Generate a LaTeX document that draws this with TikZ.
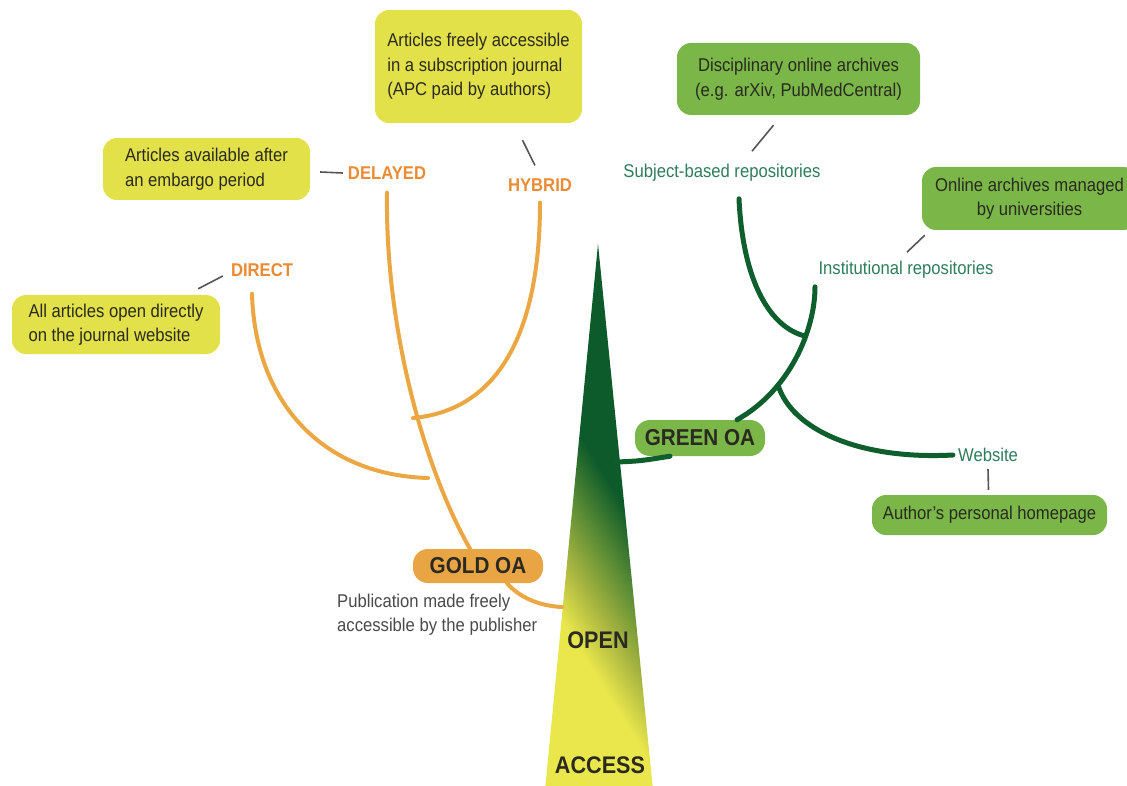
\documentclass[tikz,border=0pt]{standalone}
\usepackage{fontspec}
\setmainfont[FakeStretch=0.9]{Liberation Sans}
\definecolor{boxY}{HTML}{E3E14A}
\definecolor{boxG}{HTML}{7AB648}
\definecolor{boxO}{HTML}{E9A444}
\definecolor{lineO}{HTML}{EBA743}
\definecolor{labO}{HTML}{EB8B34}
\definecolor{lineG}{HTML}{0F5E2E}
\definecolor{labG}{HTML}{2E7D5B}
\definecolor{connC}{HTML}{555555}
\definecolor{txt}{HTML}{2A2A22}
\definecolor{grayT}{HTML}{4A4A4A}
\definecolor{triG}{HTML}{0D5A2A}
\definecolor{triM}{HTML}{5E8E35}
\definecolor{triO}{HTML}{A8B540}
\definecolor{triY}{HTML}{EAE74C}
\pgfdeclareverticalshading{oashade}{100bp}{color(0bp)=(triY); color(45.5bp)=(triY); color(48.5bp)=(triO); color(51.5bp)=(triM); color(55bp)=(triG); color(100bp)=(triG)}
\tikzset{
  ybox/.style={fill=boxY, rounded corners=14pt, inner sep=0pt, font=\fontsize{18.5}{24.5}\selectfont, text=txt, align=left},
  gbox/.style={fill=boxG, rounded corners=14pt, inner sep=0pt, font=\fontsize{18.5}{24.5}\selectfont, text=txt, align=center},
  olabel/.style={text=labO, font=\fontsize{18.5}{20}\selectfont\bfseries, inner sep=3pt},
  glabel/.style={text=labG, font=\fontsize{18.5}{20}\selectfont, inner sep=3pt},
  oaname/.style={font=\fontsize{23}{26}\selectfont\bfseries, text=txt, rounded corners=15pt, inner sep=0pt},
  bigword/.style={font=\fontsize{24}{26}\selectfont\bfseries, text=txt, inner sep=0pt},
  oline/.style={draw=lineO, line width=4pt, line cap=round},
  gline/.style={draw=lineG, line width=5pt, line cap=round},
  conn/.style={draw=connC, line width=1.6pt},
}
\begin{document}
\begin{tikzpicture}[x=1pt,y=-1pt]
\useasboundingbox[fill=white] (0,0) rectangle (1127,786);

% triangle
\coordinate (apex) at (598,244);
\coordinate (bl) at (545,790);
\coordinate (br) at (653,790);
\begin{scope}
  \clip (apex) -- (bl) -- (br) -- cycle;
  \begin{scope}[transform canvas={rotate around={-58:(601,582)}}]
    \shade[shading=oashade] (301,282) rectangle (901,882);
  \end{scope}
\end{scope}

% nodes
\node[oaname, fill=boxO, minimum width=130pt, minimum height=34pt] (gold) at (478,566) {GOLD OA};
\node[oaname, fill=boxG, minimum width=130pt, minimum height=36pt] (green) at (700,438) {GREEN OA};
\node[bigword] (open) at (598,640) {OPEN};
\node[bigword] (access) at (600,765) {ACCESS};
\node[anchor=west, align=left, text=grayT, font=\fontsize{18.5}{24}\selectfont, inner sep=0pt] (pub) at (337,615) {Publication made freely\\accessible by the publisher};

\node[olabel] (delayed) at (387,173) {DELAYED};
\node[olabel] (hybrid) at (540,185) {HYBRID};
\node[olabel] (direct) at (262,270) {DIRECT};

\node[ybox, minimum width=207pt, minimum height=62pt] (ebox) at (206.5,169) {Articles available after\\an embargo period};
\node[ybox, minimum width=208pt, minimum height=59pt] (dbox) at (116,324.5) {All articles open directly\\on the journal website};
\node[ybox, minimum width=207pt, minimum height=113pt] (hbox) at (478.5,66.5) {Articles freely accessible\\in a subscription journal\\(APC paid by authors)};

\node[glabel] (subj) at (722,173) {Subject-based repositories};
\node[glabel] (inst) at (906,270) {Institutional repositories};
\node[glabel] (web) at (988,455) {Website};

\node[gbox, minimum width=243pt, minimum height=72pt] (disc) at (798.5,79) {Disciplinary online archives\\(e.g. arXiv, PubMedCentral)};
\node[gbox, minimum width=215pt, minimum height=63pt] (onl) at (1029.5,198.5) {Online archives managed\\by universities};
\node[gbox, minimum width=235pt, minimum height=40pt] (home) at (989.5,515) {Author’s personal homepage};

% gold branches
\coordinate (jd) at (428,478);
\coordinate (jh) at (413,418);
\draw[oline] ([xshift=-8pt]gold.north) .. controls (425,470) and (385,330) .. ([yshift=-10pt]delayed.south);
\draw[oline] ([shift={(-10,14)}]direct.south) .. controls (255,400) and (320,475) .. (jd);
\draw[oline] ([yshift=-8pt]hybrid.south) .. controls (540,330) and (500,410) .. (jh);
\draw[oline] ([xshift=29pt]gold.south) .. controls (520,598) and (540,606) .. (562,607);

% green branches
\coordinate (jw) at (778,385);
\coordinate (js) at (805,336);
\coordinate (trunkR) at (617,462);
\draw[gline] (trunkR) .. controls (640,461) .. ([xshift=-30pt]green.south);
\draw[gline] ([xshift=37pt]green.north) .. controls (790,390) and (815,330) .. ([shift={(-91,5)}]inst.south);
\draw[gline] ([shift={(17,14)}]subj.south) .. controls (743,285) and (772,328) .. (js);
\draw[gline] (jw) .. controls (792,430) and (860,460) .. ([xshift=-2pt]web.west);

% gray ticks
\draw[conn] ([shift={(10,3)}]ebox.east) -- ([shift={(-2,0)}]delayed.west);
\draw[conn] ([shift={(-22,-6)}]dbox.north east) -- ([shift={(-5,6)}]direct.west);
\draw[conn] ([shift={(44,17)}]hbox.south) -- ([shift={(-5,-10)}]hybrid.north);
\draw[conn] ([shift={(-25,10)}]disc.south) -- ([shift={(30,-10)}]subj.north);
\draw[conn] ([shift={(3,5)}]onl.south west) -- ([shift={(1,-6)}]inst.north);
\draw[conn] ([shift={(0,4)}]web.south) -- ([shift={(-1,-5)}]home.north);
\end{tikzpicture}
\end{document}
